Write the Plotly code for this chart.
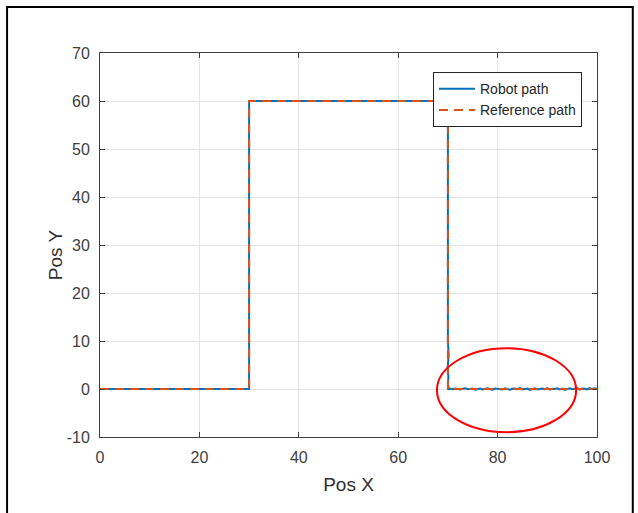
import plotly.graph_objects as go

# Reference path
ref_x = [0, 30, 30, 70, 70, 100]
ref_y = [0, 0, 60, 60, 0, 0]

# Robot path (tracks reference, with small noise after x = 70)
robot_head_x = [0, 30, 30, 70, 70, 70.15, 69.95, 70.1, 70.0, 70.2]
robot_head_y = [0, 0, 60, 60, 10, 7, 4.5, 2.5, 1, 0]
noise_x = [70.5 + 0.5 * i for i in range(60)]
noise_y = [0.05, -0.05, 0.1, 0.0, -0.1, 0.05, 0.15, -0.05, 0.0, 0.1,
           -0.15, 0.05, 0.1, -0.1, 0.0, 0.15, -0.05, -0.15, 0.1, 0.0,
           0.05, -0.1, 0.15, 0.0, -0.15, 0.05, 0.1, -0.05, 0.2, -0.1,
           0.0, 0.1, -0.2, 0.05, 0.15, -0.1, 0.0, 0.1, -0.05, 0.2,
           -0.15, 0.05, 0.0, 0.15, -0.1, 0.1, -0.2, 0.05, 0.15, -0.05,
           0.0, 0.2, -0.15, 0.1, 0.05, -0.1, 0.2, 0.0, 0.15, 0.05]
robot_x = robot_head_x + noise_x
robot_y = robot_head_y + noise_y

x_ticks = [0, 20, 40, 60, 80, 100]
y_ticks = [-10, 0, 10, 20, 30, 40, 50, 60, 70]
y_tick_text = ["-10", "0", "10", "20", "30", "40", "50", "60", "70"]

fig = go.Figure()
fig.add_trace(go.Scatter(x=robot_x, y=robot_y, mode="lines", name="Robot path",
                         line=dict(color="#0072BD", width=2)))
fig.add_trace(go.Scatter(x=ref_x, y=ref_y, mode="lines", name="Reference path",
                         line=dict(color="#D95319", width=2, dash="9px,6px")))

FONT = "Liberation Sans, Arial"
axis_common = dict(showgrid=True, gridcolor="#e3e3e3", gridwidth=1,
                   showline=True, linecolor="#404040", linewidth=1, mirror="ticks",
                   ticks="inside", ticklen=5, tickcolor="#404040",
                   tickfont=dict(family=FONT, size=16, color="#404040"),
                   zeroline=False)

fig.update_xaxes(range=[0, 100], tickvals=x_ticks, ticklabelstandoff=6, **axis_common,
                 title=dict(text="Pos X", font=dict(family=FONT, size=19, color="#303030"),
                            standoff=12))
fig.update_yaxes(range=[-10, 70], tickvals=y_ticks, ticktext=y_tick_text, ticklabelstandoff=6,
                 **axis_common)

# y-axis title placed close to the tick labels, as in the reference
fig.add_annotation(text="Pos Y", xref="paper", yref="paper", x=-0.088, y=0.474,
                   xanchor="center", yanchor="middle", textangle=-90, showarrow=False,
                   font=dict(family=FONT, size=19, color="#303030"))

# red ellipse highlighting the noise
fig.add_shape(type="circle", xref="x", yref="y", x0=67.8, x1=95.8, y0=-9, y1=8.5,
              line=dict(color="#ff0000", width=2))
# outer black frame
fig.add_shape(type="rect", xref="paper", yref="paper", x0=-0.187, x1=1.072, y0=-0.4, y1=1.12,
              line=dict(color="black", width=2))

fig.update_layout(
    width=638, height=513,
    margin=dict(l=100, r=41, t=53, b=76),
    paper_bgcolor="white", plot_bgcolor="white",
    showlegend=True,
    legend=dict(x=0.67, y=0.95, xanchor="left", yanchor="top",
                bgcolor="white", bordercolor="#262626", borderwidth=1,
                font=dict(family=FONT, size=14, color="#262626"),
                tracegroupgap=0, itemwidth=36),
)

fig.write_html("out.html")
